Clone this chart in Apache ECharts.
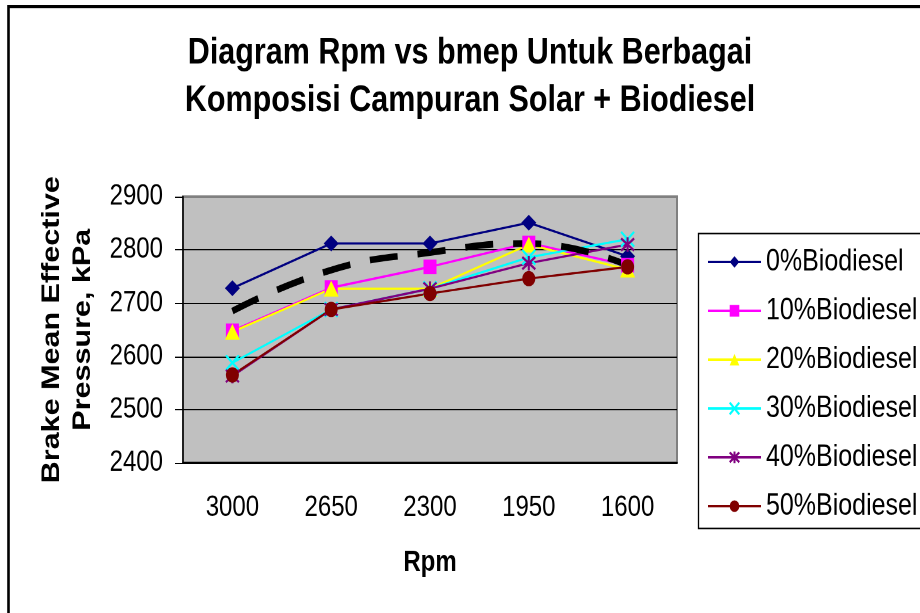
<!DOCTYPE html>
<html>
<head>
<meta charset="utf-8">
<script src="https://cdn.jsdelivr.net/npm/echarts@6/dist/echarts.min.js"></script>
<style>
    html, body { margin: 0; padding: 0; background: #fff; width: 920px; height: 613px; }
    #wrap { position: relative; width: 920px; height: 613px; overflow: hidden; }
    /* the source picture is stretched vertically, so the chart is drawn
       at 920x502 and scaled up to 613 in height */
    #chart { position: absolute; left: 0; top: 0; width: 920px; height: 502px;
             transform: scaleY(1.2211); transform-origin: 0 0; }
</style>
</head>
<body>
<div id="wrap"><div id="chart"></div></div>
<script>
// data
const rpm = ['3000', '2650', '2300', '1950', '1600'];
const bio0 = [2728, 2812, 2812, 2851, 2788];
const bio10 = [2648, 2729, 2768, 2813, 2771];
const bio20 = [2646, 2727, 2727, 2810, 2763];
const bio30 = [2588, 2688, 2727, 2786, 2820];
const bio40 = [2563, 2688, 2727, 2775, 2810];
const bio50 = [2565, 2688, 2718, 2746, 2768];
// the dashed black trend line (not in legend)
const trend = [2685, 2762, 2795, 2812, 2771];

const font = "'Liberation Sans', Arial, sans-serif";

const crossPath = 'path://M0,0L10,10M10,0L0,10';
const starPath = 'path://M0,0L10,10M10,0L0,10M5,-1L5,11';

function mkSeries(name, data, color, symbol, size, stroke) {
    return {
        name: name,
        type: 'line',
        data: data,
        symbol: symbol,
        symbolSize: size,
        lineStyle: { color: color, width: 1.8 },
        itemStyle: stroke
            ? { color: color, borderColor: color, borderWidth: 2 }
            : { color: color },
        emphasis: { disabled: true }
    };
}

const chart = echarts.init(document.getElementById('chart'), null, {
    width: 920,
    height: 502,
    devicePixelRatio: 2
});

const option = {
    animation: false,
    backgroundColor: '#fff',
    title: {
        text: 'Diagram Rpm vs bmep Untuk Berbagai\nKomposisi Campuran Solar + Biodiesel',
        left: 470,
        top: 24,
        padding: 0,
        textAlign: 'center',
        textStyle: {
            fontFamily: font,
            fontWeight: 'bold',
            fontSize: 30.5,
            lineHeight: 39,
            color: '#000'
        }
    },
    grid: {
        left: 183,
        top: 161,
        right: 243,
        bottom: 123,
        show: true,
        backgroundColor: '#c0c0c0',
        borderColor: '#808080',
        borderWidth: 2
    },
    legend: {
        data: ['0%Biodiesel', '10%Biodiesel', '20%Biodiesel', '30%Biodiesel', '40%Biodiesel', '50%Biodiesel'],
        orient: 'vertical',
        left: 707,
        top: 202,
        padding: 0,
        itemWidth: 53,
        itemHeight: 12,
        itemGap: 15,
        textStyle: {
            fontFamily: font,
            fontSize: 25,
            lineHeight: 25,
            color: '#000'
        }
    },
    xAxis: {
        type: 'category',
        data: rpm,
        name: 'Rpm',
        nameLocation: 'middle',
        nameGap: 70,
        nameTextStyle: {
            fontFamily: font,
            fontWeight: 'bold',
            fontSize: 24,
            color: '#000'
        },
        axisLine: { lineStyle: { color: '#000', width: 1.5 } },
        axisTick: { length: 6.5, lineStyle: { color: '#000' } },
        axisLabel: {
            margin: 25,
            fontFamily: font,
            fontSize: 24,
            color: '#000'
        }
    },
    yAxis: {
        type: 'value',
        min: 2400,
        max: 2900,
        interval: 100,
        name: 'Brake Mean Effective\nPressure, kPa',
        nameLocation: 'middle',
        nameRotate: 90,
        nameGap: 67,
        nameTextStyle: {
            fontFamily: font,
            fontWeight: 'bold',
            fontSize: 25,
            lineHeight: 31,
            color: '#000'
        },
        axisLine: { show: true, lineStyle: { color: '#000', width: 1.5 } },
        axisTick: { show: true, length: 8, lineStyle: { color: '#000' } },
        axisLabel: {
            margin: 20,
            fontFamily: font,
            fontSize: 24,
            color: '#000',
            formatter: function (v) { return String(v); }
        },
        splitLine: {
            showMaxLine: false,
            lineStyle: { color: '#000', width: 1 }
        }
    },
    series: [
        mkSeries('0%Biodiesel', bio0, '#000080', 'diamond', [15, 13]),
        mkSeries('10%Biodiesel', bio10, '#ff00ff', 'rect', [13, 12]),
        mkSeries('20%Biodiesel', bio20, '#ffff00', 'triangle', [15, 13]),
        mkSeries('30%Biodiesel', bio30, '#00ffff', crossPath, [13, 12], true),
        mkSeries('40%Biodiesel', bio40, '#800080', starPath, [13, 12], true),
        mkSeries('50%Biodiesel', bio50, '#800000', 'circle', [13, 12.5]),
        {
            name: 'trend',
            type: 'line',
            data: trend,
            smooth: 0.5,
            symbol: 'none',
            silent: true,
            lineStyle: { color: '#000', width: 5.5, type: [28, 20] },
            z: 3
        }
    ],
    graphic: [
        {
            // outer chart border, runs off the right and bottom edges
            type: 'rect',
            shape: { x: 8.5, y: 5.3, width: 1000, height: 1000 },
            style: { fill: null, stroke: '#000', lineWidth: 2.6 },
            silent: true
        },
        {
            // legend box, also cut off at the right
            type: 'rect',
            shape: { x: 698.5, y: 191.2, width: 300, height: 241.6 },
            style: { fill: null, stroke: '#000', lineWidth: 1.3 },
            silent: true
        }
    ]
};

chart.setOption(option);
</script>
</body>
</html>
